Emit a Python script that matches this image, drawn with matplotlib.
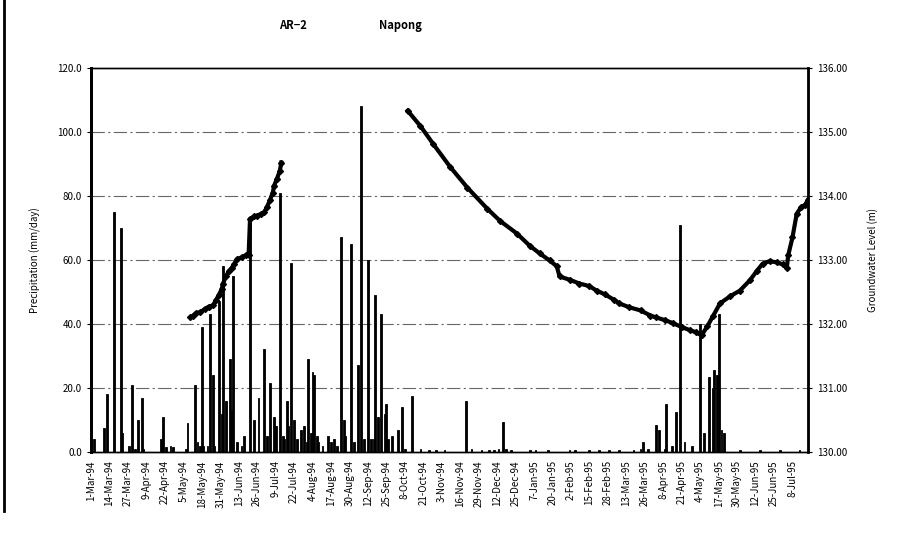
import datetime as dt
import matplotlib
matplotlib.use('Agg')
import matplotlib.pyplot as plt
from matplotlib.lines import Line2D

plt.rcParams['font.family'] = ['Noto Sans CJK JP', 'DejaVu Sans']

START = dt.date(1994, 3, 1)

# daily precipitation, day number counted from 1-Mar-94
rain_day = [2, 9, 11, 16, 21, 22, 27, 29, 31, 33, 36, 37, 49, 51, 53, 56, 58,
            67, 68, 73, 75, 77, 78, 79, 82, 84, 86, 87, 90, 92, 93, 95, 98, 99,
            100, 103, 106, 108, 112, 115, 118, 122, 124, 126, 129, 130, 133,
            135, 136, 138, 139, 141, 143, 145, 148, 150, 152, 153, 155, 156,
            157, 159, 160, 163, 167, 169, 171, 173, 176, 178, 179, 183, 185,
            188, 190, 192, 195, 197, 199, 200, 202, 204, 207, 208, 209, 212,
            216, 219, 221, 226, 232, 238, 243, 249, 264, 268, 275, 280, 284,
            287, 290, 292, 296, 309, 313, 322, 337, 341, 351, 358, 365, 372,
            382, 387, 389, 392, 398, 400, 404, 405, 409, 412, 415, 418, 423,
            429, 432, 435, 438, 439, 441, 442, 444, 446, 457, 471, 485, 499]
rain_mm = [4, 7.5, 18, 75, 70, 6, 2, 21, 1, 10, 17, 1, 4, 11, 1.5, 2, 1.5,
           1, 9, 21, 3, 2, 39, 2, 2, 43, 24, 2, 47, 12, 58, 16, 29, 13,
           55, 3, 2, 5, 73, 10, 17, 32, 5, 21.5, 11, 8, 81,
           5, 4, 16, 8, 59, 10, 4, 7, 8, 3, 29, 6, 25,
           24, 5, 3, 2, 5, 3, 4, 2, 67, 10, 5, 65, 3,
           27, 108, 4, 60, 4, 4, 49, 11, 43, 12, 15, 4, 5,
           7, 14, 1, 17.5, 1, 0.5, 0.5, 0.5, 16, 1, 0.5, 0.5, 0.5,
           1, 9.5, 1, 0.5, 0.5, 0.5, 0.5, 0.5, 0.5, 0.5, 0.5, 0.5, 0.5,
           0.5, 1, 3, 1, 8.5, 7, 1, 15, 2, 12.5, 71, 3, 2,
           40, 6, 23.5, 20, 25.6, 24, 43, 7, 6, 0.5, 0.5, 0.5, 0.5]

# groundwater level (m), two recorded periods
gw1_day = [70, 72, 74, 77, 80, 83, 86, 88, 90, 92, 93, 95, 97, 99, 101, 103,
           106, 109, 111, 112, 115, 117, 120, 122, 124, 126, 128, 129, 131,
           133, 134]
gw1_lvl = [132.10, 132.13, 132.17, 132.18, 132.23, 132.27, 132.29, 132.37,
           132.45, 132.54, 132.63, 132.74, 132.82, 132.87, 132.94, 133.01,
           133.04, 133.07, 133.08, 133.64, 133.68, 133.69, 133.72, 133.74,
           133.83, 133.93, 134.05, 134.16, 134.27, 134.39, 134.52]
gw2_day = [223, 232, 241, 253, 265, 279, 288, 300, 309, 316, 323, 328, 330,
           337, 344, 351, 356, 362, 368, 372, 379, 387, 394, 398, 404, 410,
           416, 422, 426, 430, 434, 438, 443, 450, 457, 464, 469, 473, 478,
           483, 487, 490, 491, 494, 497, 500, 503, 505]
gw2_lvl = [135.33, 135.09, 134.81, 134.45, 134.13, 133.80, 133.61, 133.41,
           133.22, 133.10, 132.99, 132.90, 132.74, 132.69, 132.63, 132.59,
           132.52, 132.46, 132.38, 132.32, 132.26, 132.21, 132.13, 132.10,
           132.06, 132.01, 131.95, 131.90, 131.87, 131.82, 131.96, 132.12,
           132.32, 132.43, 132.52, 132.68, 132.83, 132.94, 132.98, 132.96,
           132.93, 132.87, 133.07, 133.35, 133.72, 133.82, 133.86, 133.94]


def to_date(days):
    return [START + dt.timedelta(days=d) for d in days]


fig = plt.figure(figsize=(9.1, 5.38), dpi=100)
ax = fig.add_axes([0.1, 0.16, 0.788, 0.714])

ax.bar(to_date(rain_day), rain_mm, width=1.3, color='black',
       edgecolor='black', linewidth=0.6, zorder=3)
ax.set_ylim(0, 120)
ax.set_yticks(range(0, 121, 20))
ax.set_yticklabels([f'{v:.1f}' for v in range(0, 121, 20)], fontsize=7)
ax.set_ylabel('Precipitation (mm/day)', fontsize=7, labelpad=12)
for v in range(20, 101, 20):
    ax.axhline(v, color='#666666', lw=0.8, ls=(0, (12, 3, 2, 3)), zorder=1)

ticks = to_date(range(0, 495, 13))
ax.set_xticks(ticks)
ax.set_xticklabels([f'{d.day}-{d:%b-%y}' for d in ticks], rotation=90,
                   fontsize=7)
ax.set_xlim(START + dt.timedelta(days=0), START + dt.timedelta(days=505))
ax.tick_params(axis='x', length=0, pad=6)
ax.tick_params(axis='y', length=3, direction='out')

ax2 = ax.twinx()
for days, lvl in [(gw1_day, gw1_lvl), (gw2_day, gw2_lvl)]:
    ax2.plot(to_date(days), lvl, color='black', lw=3, marker='D',
             markersize=3, zorder=4)
ax2.set_ylim(130, 136)
ax2.set_yticks(range(130, 137))
ax2.set_yticklabels([f'{v:.2f}' for v in range(130, 137)], fontsize=7)
ax2.set_ylabel('Groundwater Level (m)', fontsize=7, labelpad=14)
ax2.tick_params(axis='y', length=3, direction='out')

for a in (ax, ax2):
    for s in a.spines.values():
        s.set_linewidth(1.0)
ax.spines['left'].set_linewidth(2)
ax2.spines['right'].set_linewidth(2)
ax2.spines['left'].set_linewidth(2)

fig.text(0.322, 0.953, 'AR−2', fontsize=8, fontweight='bold',
         ha='center', va='center')
fig.text(0.44, 0.953, 'Napong', fontsize=8, fontweight='bold',
         ha='center', va='center')

# scanned page edge on the left
fig.add_artist(Line2D([0.004, 0.004], [0.05, 1.0], color='black', lw=2))

fig.savefig('out.png', dpi=100)
